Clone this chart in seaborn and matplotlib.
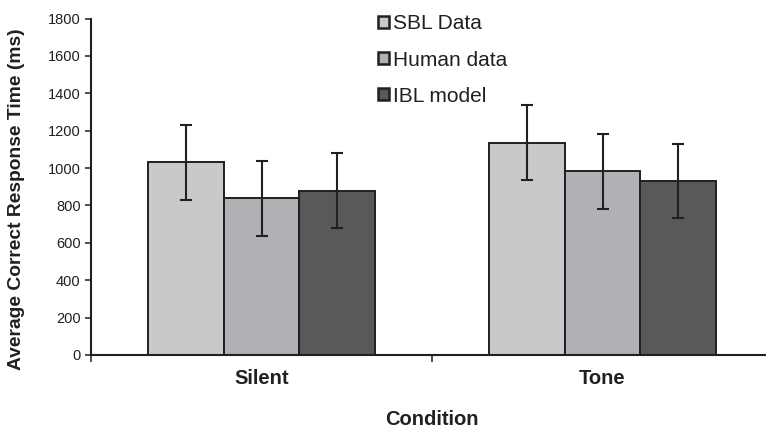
import matplotlib

matplotlib.use("Agg")
import matplotlib.pyplot as plt
import numpy as np
import pandas as pd
import seaborn as sns
from matplotlib.ticker import FixedLocator, NullFormatter

CONDITIONS = ["Silent", "Tone"]
SOURCES = ["SBL Data", "Human data", "IBL model"]

SBL_MEAN = [1030, 1136]
HUMAN_MEAN = [838, 982]
IBL_MEAN = [879, 931]

SBL_ERR = [200, 200]
HUMAN_ERR = [200, 199]
IBL_ERR = [200, 196]

COLORS = {
    "SBL Data": "#C8C9CB",
    "Human data": "#B0B1B4",
    "IBL model": "#58595B",
}
INK = "#231F20"


def build_frame():
    rows = []
    for src, means, errs in zip(SOURCES, [SBL_MEAN, HUMAN_MEAN, IBL_MEAN], [SBL_ERR, HUMAN_ERR, IBL_ERR]):
        for cond, m, e in zip(CONDITIONS, means, errs):
            rows.append({"condition": cond, "source": src, "time": m, "err": e})
    return pd.DataFrame(rows)


def main():
    sns.set_theme(style="white")
    plt.rcParams["font.family"] = ["Liberation Sans", "DejaVu Sans"]

    df = build_frame()

    fig = plt.figure(figsize=(7.66, 4.30), dpi=100)
    ax = fig.add_axes([91 / 766, 75 / 430, 682 / 766, 336.5 / 430])

    sns.barplot(
        data=df,
        x="condition",
        y="time",
        hue="source",
        order=CONDITIONS,
        hue_order=SOURCES,
        palette=COLORS,
        width=0.666,
        gap=0,
        edgecolor=INK,
        linewidth=1.4,
        errorbar=None,
        saturation=1,
        ax=ax,
    )

    # error bars on top of each bar
    for src, container in zip(SOURCES, ax.containers):
        sub = df[df["source"] == src].set_index("condition").loc[CONDITIONS]
        xs = [bar.get_x() + bar.get_width() / 2 for bar in container]
        ax.errorbar(
            xs,
            sub["time"].values,
            yerr=sub["err"].values,
            fmt="none",
            ecolor=INK,
            elinewidth=1.5,
            capsize=4.5,
            capthick=1.5,
            zorder=5,
        )

    ax.set_xlim(-0.5, 1.5)
    ax.set_ylim(0, 1800)
    ax.set_yticks(np.arange(0, 1801, 200))
    ax.tick_params(axis="y", direction="out", length=4.5, width=1.1, color=INK,
                   labelsize=10.5, pad=3, labelcolor=INK, left=True)

    # excel style: ticks at category boundaries, labels at centers
    ax.xaxis.set_major_locator(FixedLocator([-0.5, 0.5, 1.5]))
    ax.xaxis.set_major_formatter(NullFormatter())
    ax.xaxis.set_minor_locator(FixedLocator([0, 1]))
    ax.set_xticklabels(CONDITIONS, minor=True, fontweight="bold", fontsize=14.5, color=INK)
    ax.tick_params(axis="x", which="major", direction="out", length=5, width=1.1, color=INK, bottom=True)
    ax.tick_params(axis="x", which="minor", length=0, pad=10)

    for side in ["top", "right"]:
        ax.spines[side].set_visible(False)
    for side in ["left", "bottom"]:
        ax.spines[side].set_color(INK)
        ax.spines[side].set_linewidth(1.5)

    ax.set_xlabel("Condition", fontsize=14.5, fontweight="bold", color=INK)
    ax.xaxis.set_label_coords(0.5, -0.163)
    ax.xaxis.label.set_va("top")
    ax.set_ylabel("Average Correct Response Time (ms)", fontsize=13.9, fontweight="bold", color=INK)
    ax.yaxis.set_label_coords(-0.097, 0.464)

    handles, labels = ax.get_legend_handles_labels()
    for h in handles:
        h.set_edgecolor(INK)
        h.set_linewidth(1.8)
    ax.legend(
        handles,
        labels,
        loc="upper left",
        bbox_to_anchor=(368 / 766, 1 - 4 / 430),
        bbox_transform=fig.transFigure,
        frameon=False,
        fontsize=15,
        handlelength=0.5,
        handleheight=0.5,
        handletextpad=0.2,
        labelspacing=0.82,
        borderpad=0,
    )
    for t in ax.get_legend().get_texts():
        t.set_color(INK)

    fig.savefig("out.png", dpi=100)
    plt.close(fig)


if __name__ == "__main__":
    main()
